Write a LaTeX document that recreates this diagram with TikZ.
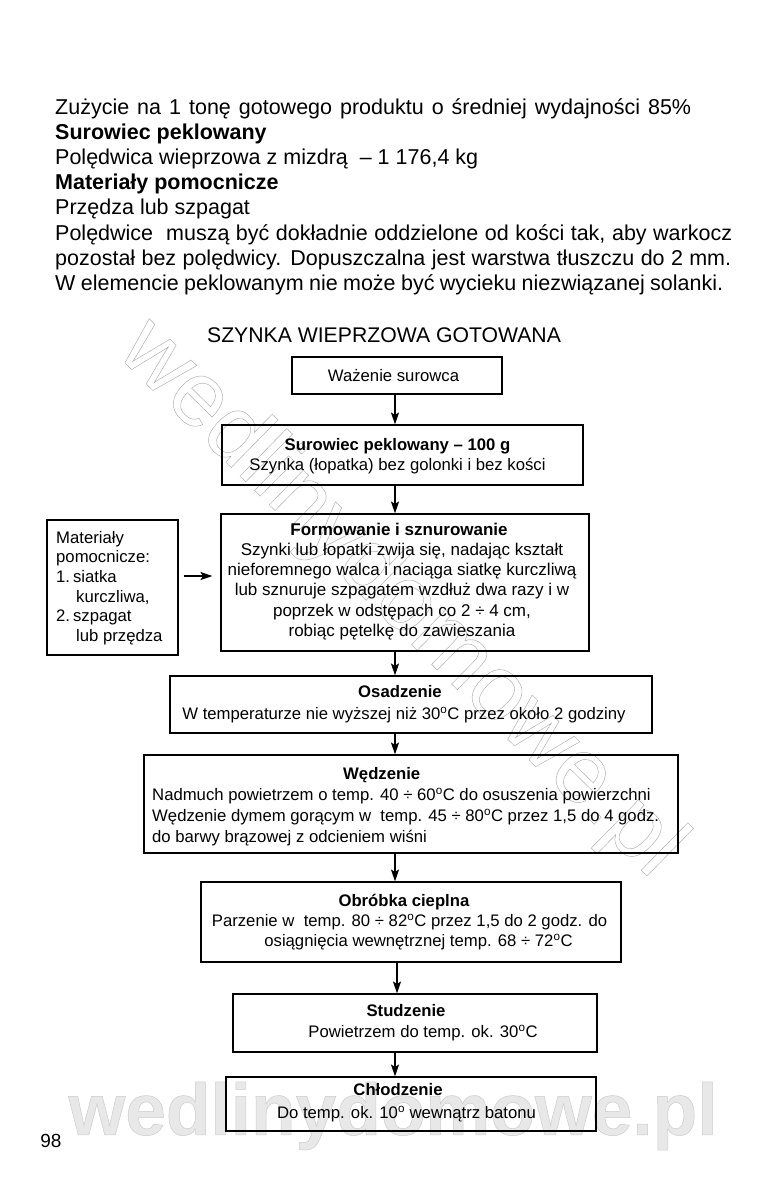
\documentclass[tikz,border=0pt]{standalone}
\usepackage{fontspec}
\setmainfont{Liberation Sans}
\usetikzlibrary{arrows.meta,calc}
\tikzset{
  box/.style={draw=black, line width=1.1pt, inner sep=0pt},
  btxt/.style={inner sep=0pt, align=center, font=\fontsize{16.7}{#1}\selectfont},
  btxt/.default=20,
  arr/.style={line width=1.3pt, -{Stealth[length=12pt,width=8pt,inset=2.5pt]}},
  para/.style={anchor=north west, align=left, inner sep=0pt, font=\fontsize{21.5}{25.2}\selectfont},
  wmark/.style={inner sep=0pt}
}
\newcommand{\dg}{\textsuperscript{o}}
\begin{document}
\begin{tikzpicture}[x=1pt,y=-1pt]
\useasboundingbox (0,0) rectangle (780,1200);
\fill[white] (0,0) rectangle (780,1200);

% watermarks
\node[wmark, text=black!32, rotate=-44.5, font=\fontsize{92}{92}\selectfont] (wm1) at (400,600)
  {\special{pdf:literal direct 1 Tr 0.45 w}wedlinydomowe.pl\special{pdf:literal direct 0 Tr}};
\node[wmark, text=black!9, font=\bfseries\fontsize{73}{73}\selectfont] (wm2) at (393,1116)
  {\special{pdf:literal direct 2 Tr 0.5 w 0.8 G}wedlinydomowe.pl\special{pdf:literal direct 0 Tr 0 G}};

% intro text
\node[para] (intro) at (55,98) {\makebox[636pt][s]{Zużycie na 1 tonę gotowego produktu o średniej wydajności 85\%}\\
\textbf{Surowiec peklowany}\\
Polędwica wieprzowa z mizdrą \ – 1 176,4 kg\\
\textbf{Materiały pomocnicze}\\
Przędza lub szpagat\\
\makebox[677pt][s]{Polędwice \ muszą być dokładnie oddzielone od kości tak, aby warkocz}\\
\makebox[676pt][s]{pozostał bez polędwicy. Dopuszczalna jest warstwa tłuszczu do 2 mm.}\\
\makebox[668pt][s]{W elemencie peklowanym nie może być wycieku niezwiązanej solanki.}};

\node[inner sep=0pt, font=\fontsize{21.2}{24}\selectfont] (title) at (384,335) {SZYNKA WIEPRZOWA GOTOWANA};

% boxes
\node[box, minimum width=210pt, minimum height=37pt] (waz) at (397,375.5) {};
\node[box, minimum width=361pt, minimum height=60pt] (sur) at (402.5,455) {};
\node[box, minimum width=368pt, minimum height=137pt] (form) at (405,582.5) {};
\node[box, minimum width=131pt, minimum height=135pt] (mat) at (112.5,587.5) {};
\node[box, minimum width=482pt, minimum height=57pt] (osa) at (411,704.5) {};
\node[box, minimum width=534pt, minimum height=98pt] (wed) at (411,804) {};
\node[box, minimum width=420pt, minimum height=80pt] (obr) at (411,922) {};
\node[box, minimum width=364pt, minimum height=58pt] (stu) at (415,1023) {};
\node[box, minimum width=370pt, minimum height=54pt] (chl) at (411,1104) {};

% box texts
\node[btxt] (wazT) at (393.5,376) {Ważenie surowca};
\node[btxt] (surT) at (397.5,456)
  {\textbf{Surowiec peklowany – 100 g}\\Szynka (łopatka) bez golonki i bez kości};
\node[btxt=20.2, font=\fontsize{17}{20.2}\selectfont] (formT) at (402,581.5)
  {\textbf{Formowanie i sznurowanie}\hspace*{6pt}\\
   Szynki lub łopatki zwija się, nadając kształt\\
   nieforemnego walca i naciąga siatkę kurczliwą\\
   lub sznuruje szpagatem wzdłuż dwa razy i w\\
   poprzek w odstępach co 2 ÷ 4 cm,\\
   robiąc pętelkę do zawieszania};
\node[btxt=19.6, anchor=west, align=left] (matT) at (56,588)
  {Materiały\\pomocnicze:\\1.\hspace{3pt}siatka\\\hspace*{20pt}kurczliwa,\\2.\hspace{3pt}szpagat\\\hspace*{20pt}lub przędza};
\node[btxt=22] (osaT) at (404,704.5)
  {\textbf{Osadzenie}\hspace*{8pt}\\W temperaturze nie wyższej niż 30\dg C przez około 2 godziny};
\node[btxt=21, anchor=west, align=left] (wedT) at (152,806.5)
  {\hspace*{191pt}\textbf{Wędzenie}\\
   Nadmuch powietrzem o temp. 40 ÷ 60\dg C do osuszenia powierzchni\\
   Wędzenie dymem gorącym w \ temp. 45 ÷ 80\dg C przez 1,5 do 4 godz.\\
   do barwy brązowej z odcieniem wiśni};
\node[btxt=20] (obrT) at (409.5,922)
  {\textbf{Obróbka cieplna}\hspace*{11pt}\\
   Parzenie w \ temp. 80 ÷ 82\dg C przez 1,5 do 2 godz. do\\
   \hspace*{18pt}osiągnięcia wewnętrznej temp. 68 ÷ 72\dg C};
\node[btxt=21.5] (stuT) at (406,1022.5)
  {\textbf{Studzenie}\\\hspace*{34pt}Powietrzem do temp. ok. 30\dg C};
\node[btxt=23] (chlT) at (398,1102.5)
  {\textbf{Chłodzenie}\\\hspace*{17pt}Do temp. ok. 10\dg\ wewnątrz batonu};

\node[inner sep=0pt, font=\fontsize{19}{20}\selectfont] (page) at (51,1141) {98};

% arrows
\coordinate (ax1) at (395,0);
\coordinate (ax2) at (397,0);
\coordinate (ay) at (0,576);
\draw[arr] (waz.south -| ax1) -- (sur.north -| ax1);
\draw[arr] (sur.south -| ax1) -- (form.north -| ax1);
\draw[arr] (form.south -| ax1) -- (osa.north -| ax1);
\draw[arr] (osa.south -| ax1) -- (wed.north -| ax1);
\draw[arr] (wed.south -| ax1) -- (obr.north -| ax1);
\draw[arr] (obr.south -| ax2) -- (stu.north -| ax2);
\draw[arr] (stu.south -| ax1) -- (chl.north -| ax1);
\draw[arr] ($(mat.east |- ay)+(5,0)$) -- ($(form.west |- ay)+(-8,0)$);
\end{tikzpicture}
\end{document}
